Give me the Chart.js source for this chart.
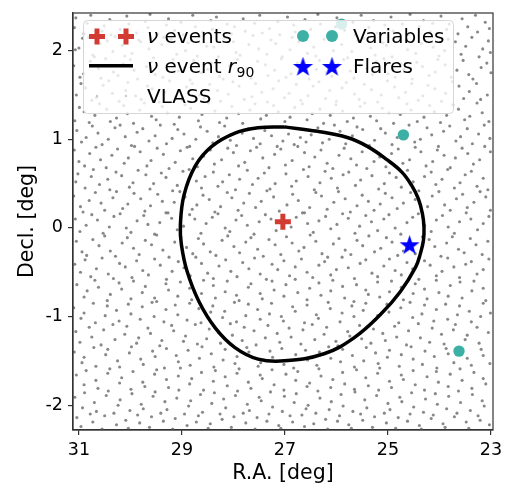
<!DOCTYPE html>
<html>
<head>
<meta charset="utf-8">
<script src="https://cdn.jsdelivr.net/npm/chart.js@4"></script>
<style>
html, body { margin: 0; padding: 0; background: #fff; }
#wrap { width: 506px; height: 488px; }
</style>
</head>
<body>
<div id="wrap"><canvas id="skyChart" width="506" height="488"></canvas></div>
<script>
// axis ticks
const raTicks = [23, 25, 27, 29, 31];
const decTicks = [-2, -1, 0, 1, 2];

// neutrino event best-fit position
const nuEventRA = [27.04];
const nuEventDec = [0.07];

// variable sources and flares
const variableRA = [25.90, 24.70, 23.62];
const variableDec = [2.30, 1.05, -1.39];
const flareRA = [24.58];
const flareDec = [-0.19];

// 90% containment contour
const contourRA = [27.01, 26.37, 25.79, 25.40, 25.02, 24.73, 24.54, 24.41, 24.33, 24.30, 24.31, 24.37, 24.46,
  24.76, 25.15, 25.66, 26.24, 27.01, 27.52, 27.97, 28.35, 28.67, 28.90, 29.01, 29.03, 28.96, 28.74, 28.42,
  27.97, 27.52, 27.01];
const contourDec = [1.14, 1.09, 1.02, 0.92, 0.77, 0.63, 0.48, 0.33, 0.16, 0.01, -0.14, -0.29, -0.44,
  -0.72, -0.98, -1.24, -1.42, -1.50, -1.48, -1.35, -1.13, -0.83, -0.49, -0.19, 0.03, 0.37, 0.70, 0.92,
  1.07, 1.13, 1.14];

// VLASS sources [RA, Dec]
const vlass = [
[31.09,2.26],[31.06,2.37],[30.9,2.19],[30.84,2.31],[30.77,2.4],[30.55,2.22],[30.51,2.28],[30.4,2.35],[30.38,2.18],[30.2,2.24],[30.07,2.39],[30.03,2.3],[29.88,2.2],[29.71,2.33],[29.66,2.26],[29.62,2.41],[29.47,2.19],[29.3,2.29],[29.26,2.36],[29.14,2.23],[29.02,2.32],[28.97,2.18],[28.79,2.4],[28.74,2.27],[28.6,2.21],[28.44,2.34],[28.41,2.24],[28.33,2.38],[28.12,2.3],[28.04,2.19],[27.98,2.27],[27.81,2.36],[27.77,2.22],[27.59,2.31],[27.49,2.4],[27.44,2.2],[27.3,2.25],[27.14,2.33],[27.1,2.18],[26.95,2.38],[26.83,2.29],[26.8,2.21],[26.61,2.35],[26.5,2.24],[26.36,2.41],[26.31,2.3],[26.15,2.19],[26.02,2.27],[25.99,2.37],[25.84,2.23],[25.68,2.32],[25.63,2.18],[25.52,2.4],[25.37,2.26],[25.28,2.34],[25.21,2.2],[25.06,2.29],[24.94,2.38],[24.9,2.22],[24.72,2.3],[24.6,2.18],[24.57,2.41],[24.39,2.27],[24.31,2.34],[24.18,2.21],[24.13,2.31],[23.97,2.39],[23.86,2.24],[23.81,2.3],[23.64,2.19],[23.56,2.36],[23.45,2.27],[23.3,2.4],[23.26,2.21],[23.11,2.32],[23.03,2.25],
[31.07,2.01],[31.0,2.03],[30.93,2.14],[30.81,2.15],[30.73,1.95],[30.7,1.93],[30.59,2.08],[30.45,2.11],[30.34,1.99],[30.3,2.16],[30.16,2.06],[30.11,1.94],[29.97,1.97],[29.84,2.12],[29.8,2.1],[29.64,2.02],[29.55,1.92],[29.39,2.07],[29.35,2.15],[29.21,2.13],[29.1,1.96],[28.93,2.0],[28.88,2.09],[28.7,1.94],[28.65,2.16],[28.52,2.05],[28.38,2.04],[28.29,1.93],[28.18,2.14],[28.0,2.1],[27.95,1.98],[27.87,1.95],[27.7,2.07],[27.62,2.17],[27.51,2.02],[27.35,1.96],[27.27,2.12],[27.18,2.08],[27.05,1.93],[26.9,2.01],[26.86,2.15],[26.73,2.1],[26.56,1.97],[26.44,2.04],[26.4,1.94],[26.24,2.13],[26.11,2.16],[26.06,2.0],[25.9,2.07],[25.78,1.92],[25.7,1.99],[25.58,2.11],[25.47,2.14],[25.33,2.03],[25.25,1.95],[25.1,2.09],[25.03,2.06],[24.92,1.93],[24.78,2.15],[24.65,2.12],[24.62,2.01],[24.46,1.97],[24.35,2.08],[24.28,2.16],[24.12,2.04],[24.01,1.94],[23.9,2.0],[23.83,2.13],[23.69,2.1],[23.58,1.96],[23.49,2.05],[23.37,2.15],[23.23,1.93],[23.16,2.02],[23.05,2.11],[23.01,1.98],
[31.1,1.83],[30.98,1.7],[30.91,1.74],[30.78,1.88],[30.62,1.8],[30.57,1.69],[30.48,1.91],[30.33,1.76],[30.24,1.72],[30.14,1.85],[30.0,1.9],[29.93,1.78],[29.86,1.68],[29.69,1.82],[29.6,1.87],[29.52,1.73],[29.37,1.7],[29.29,1.84],[29.17,1.9],[29.07,1.77],[28.95,1.81],[28.84,1.67],[28.77,1.89],[28.62,1.75],[28.5,1.79],[28.43,1.86],[28.27,1.71],[28.2,1.68],[28.08,1.83],[27.92,1.9],[27.86,1.76],[27.74,1.8],[27.66,1.69],[27.53,1.88],[27.38,1.84],[27.33,1.72],[27.2,1.78],[27.07,1.91],[26.98,1.7],[26.88,1.74],[26.76,1.86],[26.64,1.82],[26.53,1.68],[26.39,1.79],[26.33,1.89],[26.2,1.75],[26.09,1.71],[25.97,1.85],[25.86,1.9],[25.73,1.77],[25.66,1.69],[25.55,1.83],[25.41,1.8],[25.3,1.73],[25.23,1.88],[25.08,1.91],[25.0,1.74],[24.86,1.7],[24.75,1.85],[24.69,1.79],[24.53,1.68],[24.44,1.87],[24.33,1.82],[24.2,1.72],[24.08,1.76],[24.03,1.9],[23.89,1.84],[23.77,1.7],[23.66,1.78],[23.54,1.89],[23.43,1.73],[23.35,1.68],[23.19,1.81],[23.08,1.86],[23.0,1.75],
[31.05,1.5],[30.96,1.63],[30.87,1.58],[30.75,1.44],[30.66,1.47],[30.53,1.61],[30.42,1.66],[30.35,1.52],[30.22,1.43],[30.09,1.55],[30.05,1.64],[29.9,1.49],[29.79,1.45],[29.67,1.6],[29.58,1.57],[29.44,1.42],[29.33,1.53],[29.24,1.66],[29.12,1.48],[28.99,1.44],[28.91,1.59],[28.8,1.63],[28.66,1.5],[28.57,1.46],[28.46,1.62],[28.31,1.55],[28.25,1.43],[28.1,1.51],[28.01,1.65],[27.89,1.6],[27.79,1.45],[27.64,1.48],[27.57,1.63],[27.45,1.53],[27.34,1.42],[27.23,1.57],[27.12,1.66],[27.01,1.47],[26.92,1.52],[26.78,1.62],[26.69,1.44],[26.55,1.49],[26.45,1.6],[26.34,1.65],[26.21,1.46],[26.13,1.55],[26.0,1.43],[25.89,1.58],[25.81,1.64],[25.65,1.51],[25.56,1.45],[25.46,1.62],[25.32,1.56],[25.2,1.42],[25.13,1.5],[25.01,1.66],[24.87,1.59],[24.79,1.47],[24.66,1.53],[24.54,1.63],[24.41,1.44],[24.32,1.49],[24.22,1.61],[24.09,1.57],[23.96,1.43],[23.88,1.52],[23.75,1.65],[23.62,1.6],[23.53,1.46],[23.42,1.54],[23.28,1.63],[23.2,1.45],[23.07,1.5],
[31.08,1.21],[30.99,1.36],[30.9,1.31],[30.8,1.19],[30.69,1.27],[30.6,1.4],[30.46,1.34],[30.39,1.2],[30.27,1.24],[30.13,1.38],[30.06,1.29],[29.94,1.18],[29.82,1.33],[29.73,1.41],[29.59,1.26],[29.5,1.22],[29.38,1.37],[29.28,1.3],[29.15,1.17],[29.05,1.25],[28.94,1.39],[28.83,1.35],[28.68,1.21],[28.61,1.28],[28.48,1.41],[28.36,1.32],[28.27,1.19],[28.13,1.24],[28.03,1.37],[27.9,1.29],[27.82,1.18],[27.68,1.33],[27.58,1.4],[27.47,1.23],[27.36,1.27],[27.22,1.38],[27.13,1.31],[27.0,1.2],[26.9,1.25],[26.81,1.36],[26.66,1.4],[26.57,1.22],[26.47,1.29],[26.32,1.34],[26.25,1.18],[26.12,1.27],[26.01,1.39],[25.88,1.32],[25.79,1.2],[25.67,1.24],[25.54,1.37],[25.45,1.41],[25.34,1.26],[25.22,1.21],[25.11,1.35],[24.98,1.3],[24.89,1.18],[24.76,1.28],[24.63,1.4],[24.55,1.33],[24.43,1.2],[24.3,1.25],[24.19,1.38],[24.1,1.31],[23.98,1.19],[23.86,1.27],[23.74,1.39],[23.63,1.34],[23.51,1.22],[23.41,1.26],[23.27,1.41],[23.17,1.3],[23.04,1.2],
[31.04,1.1],[30.95,0.97],[30.86,1.02],[30.74,1.15],[30.63,1.07],[30.55,0.94],[30.43,1.0],[30.3,1.13],[30.2,1.16],[30.1,1.03],[29.98,0.93],[29.87,1.08],[29.76,1.12],[29.64,0.98],[29.52,1.04],[29.42,1.16],[29.3,0.95],[29.19,1.01],[29.08,1.11],[28.96,1.06],[28.85,0.92],[28.73,1.0],[28.64,1.14],[28.51,1.09],[28.4,0.96],[28.29,1.03],[28.17,1.15],[28.06,0.99],[27.94,0.93],[27.83,1.07],[27.71,1.12],[27.61,1.01],[27.48,0.95],[27.39,1.1],[27.26,1.04],[27.15,0.92],[27.04,0.98],[26.93,1.06],[26.82,0.94],[26.7,1.02],[26.59,0.97],[26.49,1.05],[26.36,1.13],[26.27,0.96],[26.14,1.0],[26.04,1.16],[25.93,1.09],[25.82,0.95],[25.69,1.04],[25.6,1.14],[25.49,1.11],[25.36,0.93],[25.26,0.99],[25.14,1.12],[25.05,1.07],[24.92,0.94],[24.82,1.02],[24.59,1.16],[24.48,0.97],[24.37,1.0],[24.24,1.13],[24.15,1.05],[24.02,0.92],[23.92,1.09],[23.8,1.15],[23.68,0.98],[23.59,1.03],[23.46,1.12],[23.36,0.95],[23.24,1.06],[23.13,1.16],[23.02,1.01],
[31.09,0.88],[31.0,0.75],[30.89,0.7],[30.79,0.84],[30.67,0.91],[30.58,0.77],[30.47,0.68],[30.36,0.82],[30.25,0.89],[30.12,0.73],[30.04,0.79],[29.92,0.92],[29.81,0.86],[29.68,0.7],[29.6,0.76],[29.48,0.9],[29.36,0.83],[29.25,0.67],[29.13,0.74],[29.03,0.87],[28.9,0.91],[28.79,0.78],[28.7,0.69],[28.58,0.81],[28.45,0.88],[28.37,0.72],[28.23,0.77],[28.11,0.9],[28.0,0.85],[27.9,0.7],[27.78,0.74],[27.67,0.87],[27.55,0.91],[27.43,0.79],[27.31,0.68],[27.2,0.83],[27.08,0.89],[26.99,0.71],[26.86,0.76],[26.75,0.92],[26.62,0.85],[26.53,0.69],[26.42,0.8],[26.3,0.88],[26.18,0.73],[26.07,0.67],[25.95,0.82],[25.85,0.9],[25.72,0.78],[25.61,0.71],[25.5,0.86],[25.39,0.92],[25.27,0.75],[25.16,0.8],[25.04,0.69],[24.93,0.84],[24.8,0.89],[24.71,0.73],[24.58,0.77],[24.47,0.91],[24.36,0.86],[24.26,0.7],[24.13,0.75],[24.04,0.88],[23.91,0.82],[23.79,0.68],[23.69,0.79],[23.56,0.9],[23.45,0.84],[23.34,0.72],[23.22,0.77],[23.12,0.92],[23.01,0.86],
[31.06,0.52],[31.02,0.61],[30.88,0.45],[30.76,0.58],[30.72,0.66],[30.6,0.49],[30.44,0.55],[30.4,0.43],[30.28,0.63],[30.17,0.59],[30.02,0.46],[29.95,0.51],[29.85,0.65],[29.7,0.6],[29.62,0.44],[29.55,0.5],[29.4,0.62],[29.31,0.57],[29.18,0.42],[29.09,0.48],[28.98,0.64],[28.86,0.66],[28.72,0.53],[28.62,0.45],[28.55,0.58],[28.39,0.63],[28.3,0.47],[28.21,0.52],[28.08,0.6],[27.96,0.43],[27.88,0.55],[27.73,0.65],[27.63,0.49],[27.52,0.56],[27.4,0.62],[27.29,0.44],[27.19,0.5],[26.98,0.61],[26.87,0.47],[26.78,0.53],[26.64,0.66],[26.55,0.58],[26.43,0.43],[26.32,0.51],[26.22,0.64],[26.1,0.56],[25.98,0.45],[25.87,0.6],[25.76,0.63],[25.63,0.48],[25.53,0.54],[25.41,0.67],[25.31,0.59],[25.18,0.44],[25.07,0.5],[24.97,0.62],[24.84,0.57],[24.74,0.46],[24.62,0.65],[24.51,0.52],[24.4,0.42],[24.29,0.58],[24.16,0.63],[24.07,0.49],[23.95,0.55],[23.84,0.66],[23.71,0.45],[23.6,0.51],[23.5,0.6],[23.38,0.64],[23.27,0.47],[23.15,0.56],[23.06,0.43],
[31.1,0.36],[30.97,0.24],[30.92,0.18],[30.8,0.31],[30.68,0.4],[30.57,0.28],[30.5,0.2],[30.34,0.34],[30.27,0.41],[30.15,0.22],[30.05,0.27],[29.93,0.39],[29.8,0.33],[29.72,0.19],[29.61,0.25],[29.47,0.38],[29.38,0.3],[29.27,0.17],[29.15,0.29],[29.04,0.41],[28.94,0.35],[28.8,0.21],[28.71,0.26],[28.59,0.37],[28.47,0.32],[28.36,0.18],[28.25,0.24],[28.12,0.4],[28.03,0.34],[27.91,0.2],[27.8,0.28],[27.69,0.39],[27.57,0.23],[27.46,0.3],[27.35,0.42],[27.22,0.35],[27.11,0.19],[26.96,0.26],[26.85,0.38],[26.74,0.31],[26.62,0.17],[26.52,0.23],[26.4,0.4],[26.29,0.36],[26.18,0.21],[26.05,0.29],[25.96,0.41],[25.83,0.33],[25.73,0.18],[25.6,0.25],[25.5,0.37],[25.38,0.3],[25.27,0.2],[25.15,0.27],[25.05,0.39],[24.92,0.34],[24.82,0.22],[24.7,0.28],[24.56,0.4],[24.47,0.32],[24.35,0.19],[24.23,0.24],[24.14,0.36],[24.01,0.41],[23.9,0.26],[23.79,0.2],[23.67,0.33],[23.55,0.38],[23.46,0.23],[23.33,0.29],[23.21,0.41],[23.1,0.35],[23.01,0.2],
[31.07,0.1],[30.98,-0.04],[30.86,0.03],[30.75,0.15],[30.64,0.09],[30.53,-0.06],[30.41,0.01],[30.32,0.13],[30.2,0.16],[30.08,0.0],[29.99,-0.05],[29.87,0.08],[29.74,0.14],[29.66,0.04],[29.53,-0.07],[29.43,0.06],[29.31,0.17],[29.2,0.11],[29.09,-0.02],[28.97,0.02],[28.85,0.15],[28.75,0.1],[28.63,-0.06],[28.53,0.05],[28.41,0.12],[28.3,0.16],[28.16,0.0],[28.07,-0.04],[27.95,0.09],[27.84,0.14],[27.73,0.03],[27.6,-0.07],[27.5,0.07],[27.38,0.15],[27.27,0.1],[27.17,-0.03],[26.88,0.01],[26.78,0.12],[26.66,0.17],[26.56,0.05],[26.45,-0.05],[26.34,0.08],[26.21,0.13],[26.11,-0.01],[25.99,0.04],[25.88,0.16],[25.77,0.11],[25.64,-0.06],[25.55,0.02],[25.43,0.14],[25.32,0.07],[25.2,-0.03],[25.08,0.1],[24.98,0.15],[24.86,0.0],[24.75,-0.07],[24.63,0.06],[24.52,0.12],[24.41,0.16],[24.29,0.03],[24.16,-0.04],[24.06,0.09],[23.94,0.14],[23.83,0.01],[23.71,-0.06],[23.61,0.07],[23.48,0.17],[23.39,0.1],[23.26,-0.02],[23.15,0.05],[23.04,0.13],
[31.05,-0.15],[30.94,-0.27],[30.85,-0.31],[30.73,-0.13],[30.61,-0.2],[30.5,-0.09],[30.39,-0.26],[30.29,-0.32],[30.16,-0.17],[30.06,-0.11],[29.94,-0.23],[29.83,-0.3],[29.71,-0.14],[29.59,-0.19],[29.49,-0.08],[29.37,-0.25],[29.25,-0.33],[29.14,-0.16],[29.02,-0.1],[28.91,-0.22],[28.79,-0.29],[28.68,-0.12],[28.58,-0.18],[28.45,-0.27],[28.34,-0.31],[28.22,-0.14],[28.11,-0.09],[27.99,-0.21],[27.88,-0.28],[27.76,-0.16],[27.66,-0.11],[27.53,-0.24],[27.42,-0.32],[27.31,-0.13],[27.19,-0.19],[27.08,-0.3],[26.97,-0.1],[26.86,-0.17],[26.73,-0.26],[26.63,-0.22],[26.51,-0.08],[26.4,-0.15],[26.28,-0.29],[26.17,-0.33],[26.06,-0.18],[25.95,-0.12],[25.83,-0.25],[25.72,-0.3],[25.6,-0.14],[25.49,-0.2],[25.37,-0.09],[25.26,-0.27],[25.14,-0.23],[25.03,-0.11],[24.92,-0.16],[24.81,-0.31],[24.7,-0.26],[24.47,-0.29],[24.33,-0.1],[24.2,-0.13],[24.09,-0.21],[23.97,-0.32],[23.86,-0.17],[23.75,-0.1],[23.63,-0.24],[23.52,-0.28],[23.4,-0.12],[23.29,-0.19],[23.17,-0.3],[23.06,-0.15],
[31.08,-0.41],[30.97,-0.5],[30.88,-0.36],[30.77,-0.55],[30.66,-0.46],[30.55,-0.34],[30.43,-0.52],[30.33,-0.57],[30.21,-0.4],[30.1,-0.44],[29.97,-0.56],[29.88,-0.37],[29.76,-0.48],[29.65,-0.53],[29.53,-0.35],[29.42,-0.42],[29.3,-0.58],[29.19,-0.49],[29.07,-0.38],[28.96,-0.45],[28.84,-0.54],[28.73,-0.33],[28.62,-0.4],[28.5,-0.51],[28.39,-0.57],[28.28,-0.43],[28.15,-0.36],[28.05,-0.49],[27.93,-0.55],[27.82,-0.39],[27.7,-0.46],[27.59,-0.34],[27.48,-0.52],[27.36,-0.58],[27.25,-0.41],[27.14,-0.47],[27.02,-0.37],[26.91,-0.54],[26.8,-0.44],[26.68,-0.35],[26.57,-0.5],[26.46,-0.56],[26.34,-0.42],[26.23,-0.38],[26.11,-0.53],[26.0,-0.47],[25.89,-0.33],[25.77,-0.45],[25.65,-0.57],[25.54,-0.4],[25.43,-0.36],[25.31,-0.51],[25.2,-0.55],[25.08,-0.43],[24.97,-0.35],[24.86,-0.48],[24.74,-0.53],[24.63,-0.39],[24.52,-0.46],[24.4,-0.58],[24.29,-0.37],[24.18,-0.42],[24.06,-0.54],[23.95,-0.49],[23.84,-0.34],[23.72,-0.44],[23.61,-0.56],[23.49,-0.41],[23.38,-0.38],[23.27,-0.52],[23.15,-0.47],[23.04,-0.35],
[31.04,-0.64],[30.9,-0.78],[30.84,-0.71],[30.69,-0.59],[30.62,-0.67],[30.45,-0.82],[30.39,-0.75],[30.22,-0.62],[30.17,-0.69],[29.99,-0.8],[29.94,-0.6],[29.77,-0.73],[29.71,-0.66],[29.53,-0.79],[29.49,-0.83],[29.31,-0.63],[29.26,-0.7],[29.08,-0.77],[29.03,-0.61],[28.85,-0.68],[28.81,-0.81],[28.62,-0.74],[28.58,-0.59],[28.39,-0.65],[28.35,-0.79],[28.16,-0.72],[28.12,-0.6],[27.94,-0.76],[27.89,-0.82],[27.71,-0.67],[27.66,-0.63],[27.48,-0.74],[27.44,-0.8],[27.25,-0.6],[27.21,-0.7],[27.02,-0.77],[26.98,-0.64],[26.8,-0.58],[26.75,-0.73],[26.57,-0.81],[26.52,-0.68],[26.34,-0.62],[26.3,-0.76],[26.11,-0.71],[26.07,-0.59],[25.88,-0.66],[25.84,-0.79],[25.66,-0.83],[25.61,-0.64],[25.43,-0.7],[25.38,-0.75],[25.2,-0.61],[25.16,-0.78],[24.97,-0.72],[24.93,-0.6],[24.74,-0.67],[24.7,-0.81],[24.51,-0.74],[24.47,-0.63],[24.29,-0.69],[24.24,-0.8],[24.06,-0.59],[24.01,-0.73],[23.83,-0.77],[23.79,-0.65],[23.6,-0.61],[23.56,-0.79],[23.37,-0.71],[23.33,-0.6],[23.15,-0.68],[23.1,-0.82],
[31.1,-0.9],[30.96,-1.02],[30.9,-0.96],[30.72,-0.85],[30.68,-1.07],[30.49,-0.99],[30.45,-0.88],[30.27,-0.93],[30.22,-1.05],[30.04,-0.86],[29.99,-0.97],[29.81,-1.03],[29.77,-0.89],[29.58,-0.84],[29.54,-1.0],[29.35,-1.06],[29.31,-0.92],[29.13,-0.87],[29.08,-0.98],[28.9,-1.04],[28.85,-0.85],[28.67,-0.91],[28.63,-1.07],[28.44,-0.95],[28.4,-0.88],[28.21,-1.01],[28.17,-0.94],[27.98,-0.84],[27.94,-1.06],[27.76,-0.99],[27.71,-0.86],[27.53,-0.92],[27.48,-1.03],[27.3,-0.97],[27.26,-0.85],[27.07,-1.0],[27.03,-1.05],[26.85,-0.89],[26.8,-0.94],[26.62,-1.07],[26.57,-0.87],[26.39,-0.98],[26.35,-1.02],[26.16,-0.84],[26.12,-0.91],[25.93,-1.06],[25.89,-0.96],[25.7,-0.88],[25.66,-1.0],[25.48,-0.93],[25.43,-0.85],[25.25,-1.04],[25.2,-0.99],[25.02,-0.86],[24.98,-0.95],[24.79,-1.07],[24.75,-0.9],[24.57,-0.84],[24.52,-1.01],[24.34,-0.97],[24.29,-0.87],[24.11,-1.05],[24.06,-0.92],[23.88,-0.86],[23.84,-1.03],[23.65,-0.98],[23.61,-0.88],[23.42,-0.94],[23.38,-1.06],[23.2,-1.0],[23.15,-0.85],[23.01,-0.96],
[31.06,-1.17],[30.98,-1.29],[30.8,-1.12],[30.75,-1.23],[30.57,-1.32],[30.52,-1.15],[30.34,-1.09],[30.3,-1.26],[30.11,-1.2],[30.07,-1.11],[29.88,-1.3],[29.84,-1.24],[29.66,-1.13],[29.61,-1.19],[29.43,-1.33],[29.39,-1.27],[29.2,-1.1],[29.16,-1.16],[28.97,-1.28],[28.93,-1.22],[28.74,-1.09],[28.7,-1.31],[28.52,-1.25],[28.47,-1.14],[28.29,-1.18],[28.25,-1.3],[28.06,-1.08],[28.02,-1.21],[27.83,-1.27],[27.79,-1.12],[27.6,-1.16],[27.56,-1.32],[27.38,-1.24],[27.33,-1.1],[27.15,-1.19],[27.1,-1.29],[26.92,-1.13],[26.88,-1.23],[26.69,-1.31],[26.65,-1.15],[26.47,-1.09],[26.42,-1.26],[26.24,-1.2],[26.19,-1.12],[26.01,-1.28],[25.97,-1.33],[25.78,-1.17],[25.74,-1.22],[25.55,-1.1],[25.51,-1.25],[25.33,-1.3],[25.28,-1.14],[25.1,-1.19],[25.05,-1.27],[24.87,-1.11],[24.83,-1.23],[24.64,-1.32],[24.6,-1.16],[24.41,-1.08],[24.37,-1.24],[24.19,-1.29],[24.14,-1.13],[23.96,-1.2],[23.91,-1.31],[23.73,-1.15],[23.69,-1.09],[23.5,-1.26],[23.46,-1.21],[23.27,-1.12],[23.23,-1.3],[23.05,-1.18],
[31.09,-1.4],[30.94,-1.52],[30.9,-1.46],[30.71,-1.35],[30.67,-1.56],[30.48,-1.43],[30.44,-1.37],[30.25,-1.5],[30.21,-1.57],[30.02,-1.41],[29.98,-1.34],[29.8,-1.48],[29.75,-1.54],[29.57,-1.39],[29.52,-1.45],[29.34,-1.58],[29.3,-1.36],[29.11,-1.44],[29.07,-1.51],[28.88,-1.38],[28.84,-1.55],[28.66,-1.47],[28.61,-1.34],[28.43,-1.42],[28.38,-1.57],[28.2,-1.49],[28.16,-1.37],[27.97,-1.53],[27.93,-1.45],[27.74,-1.35],[27.7,-1.4],[27.52,-1.56],[27.47,-1.52],[27.29,-1.39],[27.24,-1.46],[27.06,-1.36],[27.02,-1.54],[26.83,-1.58],[26.79,-1.43],[26.6,-1.38],[26.56,-1.49],[26.38,-1.55],[26.33,-1.4],[26.15,-1.34],[26.11,-1.47],[25.92,-1.51],[25.88,-1.37],[25.69,-1.44],[25.65,-1.57],[25.47,-1.5],[25.42,-1.35],[25.24,-1.41],[25.19,-1.53],[25.01,-1.46],[24.97,-1.38],[24.78,-1.56],[24.74,-1.43],[24.55,-1.34],[24.51,-1.48],[24.33,-1.54],[24.28,-1.39],[24.1,-1.45],[24.05,-1.58],[23.87,-1.36],[23.83,-1.42],[23.72,-1.52],[23.46,-1.47],[23.38,-1.55],[23.19,-1.37],[23.15,-1.44],[23.02,-1.53],
[31.05,-1.66],[30.9,-1.77],[30.86,-1.61],[30.67,-1.72],[30.63,-1.81],[30.44,-1.64],[30.4,-1.59],[30.21,-1.75],[30.17,-1.69],[29.99,-1.82],[29.95,-1.62],[29.76,-1.74],[29.72,-1.79],[29.53,-1.65],[29.49,-1.6],[29.3,-1.71],[29.26,-1.8],[29.07,-1.67],[29.03,-1.58],[28.85,-1.76],[28.81,-1.7],[28.62,-1.63],[28.58,-1.83],[28.39,-1.73],[28.35,-1.61],[28.16,-1.68],[28.12,-1.78],[27.93,-1.64],[27.89,-1.59],[27.71,-1.74],[27.66,-1.81],[27.48,-1.66],[27.44,-1.7],[27.25,-1.6],[27.21,-1.77],[27.02,-1.83],[26.98,-1.65],[26.79,-1.72],[26.75,-1.62],[26.57,-1.79],[26.52,-1.75],[26.34,-1.59],[26.3,-1.67],[26.11,-1.8],[26.07,-1.71],[25.88,-1.63],[25.84,-1.76],[25.65,-1.82],[25.61,-1.6],[25.43,-1.69],[25.38,-1.78],[25.2,-1.64],[25.16,-1.58],[24.97,-1.73],[24.93,-1.8],[24.74,-1.66],[24.7,-1.71],[24.51,-1.61],[24.47,-1.77],[24.29,-1.83],[24.24,-1.68],[24.06,-1.62],[24.02,-1.74],[23.83,-1.79],[23.79,-1.65],[23.6,-1.59],[23.56,-1.72],[23.37,-1.81],[23.33,-1.63],[23.15,-1.7],[23.1,-1.76],
[31.08,-1.91],[30.93,-2.03],[30.89,-1.86],[30.7,-1.97],[30.66,-2.07],[30.47,-1.89],[30.43,-1.84],[30.24,-2.0],[30.2,-1.94],[30.01,-2.06],[29.97,-1.87],[29.79,-1.99],[29.75,-2.04],[29.56,-1.9],[29.52,-1.85],[29.33,-1.96],[29.29,-2.05],[29.1,-1.92],[29.06,-1.83],[28.87,-2.01],[28.83,-1.95],[28.64,-1.88],[28.6,-2.08],[28.42,-1.98],[28.37,-1.86],[28.19,-1.93],[28.15,-2.03],[27.96,-1.89],[27.92,-1.84],[27.73,-1.99],[27.69,-2.06],[27.5,-1.91],[27.46,-1.95],[27.28,-1.85],[27.24,-2.02],[27.05,-2.07],[27.01,-1.9],[26.82,-1.97],[26.78,-1.87],[26.59,-2.04],[26.55,-2.0],[26.36,-1.84],[26.32,-1.92],[26.14,-2.05],[26.1,-1.96],[25.91,-1.88],[25.87,-2.01],[25.68,-2.07],[25.64,-1.85],[25.45,-1.94],[25.41,-2.03],[25.22,-1.89],[25.18,-1.83],[25.0,-1.98],[24.96,-2.05],[24.77,-1.91],[24.73,-1.96],[24.54,-1.86],[24.5,-2.02],[24.31,-2.08],[24.27,-1.93],[24.08,-1.87],[24.04,-1.99],[23.86,-2.04],[23.82,-1.9],[23.63,-1.84],[23.59,-1.97],[23.4,-2.06],[23.36,-1.88],[23.17,-1.95],[23.13,-2.01],
[31.04,-2.14],[30.96,-2.24],[30.78,-2.1],[30.73,-2.19],[30.55,-2.27],[30.5,-2.12],[30.32,-2.09],[30.27,-2.22],[30.09,-2.17],[30.04,-2.26],[29.86,-2.11],[29.82,-2.2],[29.63,-2.25],[29.59,-2.13],[29.41,-2.09],[29.36,-2.18],[29.18,-2.27],[29.13,-2.15],[28.95,-2.1],[28.9,-2.23],[28.72,-2.19],[28.68,-2.12],[28.49,-2.26],[28.45,-2.21],[28.26,-2.1],[28.22,-2.16],[28.04,-2.25],[27.99,-2.13],[27.81,-2.09],[27.76,-2.2],[27.58,-2.27],[27.54,-2.14],[27.35,-2.18],[27.31,-2.1],[27.12,-2.23],[27.08,-2.26],[26.9,-2.12],[26.85,-2.19],[26.67,-2.11],[26.62,-2.24],[26.44,-2.21],[26.4,-2.09],[26.21,-2.16],[26.17,-2.27],[25.98,-2.18],[25.94,-2.12],[25.76,-2.22],[25.71,-2.26],[25.53,-2.1],[25.49,-2.17],[25.3,-2.25],[25.26,-2.13],[25.07,-2.09],[25.03,-2.2],[24.85,-2.26],[24.8,-2.14],[24.62,-2.18],[24.57,-2.1],[24.39,-2.23],[24.35,-2.27],[24.16,-2.15],[24.12,-2.11],[23.93,-2.21],[23.89,-2.25],[23.71,-2.13],[23.66,-2.09],[23.48,-2.19],[23.43,-2.26],[23.25,-2.12],[23.21,-2.17],[23.03,-2.22]
];

const FONT = '"DejaVu Sans", "Liberation Sans", sans-serif';
const RED = '#d13b32';
const TEAL = '#3db0a5';
const BLUE = '#0000ff';
const DOT = 'rgba(115, 115, 115, 0.85)';

function toPoints(xs, ys) {
    return xs.map((x, i) => ({ x: x, y: ys[i] }));
}

// filled five-point star, used as a point style
function makeStar(r, color) {
    const size = Math.ceil(r * 2) + 2;
    const c = document.createElement('canvas');
    c.width = size;
    c.height = size;
    const g = c.getContext('2d');
    const cx = size / 2, cy = size / 2 + r * 0.08;
    g.beginPath();
    for (let i = 0; i < 10; i++) {
        const rad = i % 2 ? r * 0.4 : r;
        const a = -Math.PI / 2 + i * Math.PI / 5;
        g.lineTo(cx + rad * Math.cos(a), cy + rad * Math.sin(a));
    }
    g.closePath();
    g.fillStyle = color;
    g.fill();
    return c;
}
const starImg = makeStar(10.5, BLUE);

function drawPlus(ctx, x, y) {
    ctx.save();
    ctx.strokeStyle = RED;
    ctx.lineWidth = 5;
    ctx.beginPath();
    ctx.moveTo(x - 8, y); ctx.lineTo(x + 8, y);
    ctx.moveTo(x, y - 8); ctx.lineTo(x, y + 8);
    ctx.stroke();
    ctx.restore();
}

function drawDot(ctx, x, y, r, color) {
    ctx.beginPath();
    ctx.arc(x, y, r, 0, Math.PI * 2);
    ctx.fillStyle = color;
    ctx.fill();
}

// matplotlib-style frame and two-column legend inside the axes
const skyExtras = {
    id: 'skyExtras',
    afterDatasetsDraw(chart) {
        const ctx = chart.ctx;
        const a = chart.chartArea;
        ctx.save();

        ctx.beginPath();
        ctx.roundRect(83.5, 20.5, 370, 93, 4);
        ctx.fillStyle = 'rgba(255,255,255,0.8)';
        ctx.fill();
        ctx.strokeStyle = '#d6d6d6';
        ctx.lineWidth = 1;
        ctx.stroke();

        // markers
        drawPlus(ctx, 97, 36.5);
        drawPlus(ctx, 126, 36.5);
        ctx.strokeStyle = '#000';
        ctx.lineWidth = 3.5;
        ctx.beginPath();
        ctx.moveTo(89, 65.7);
        ctx.lineTo(133, 65.7);
        ctx.stroke();
        drawDot(ctx, 97, 96, 1.2, 'rgba(150,150,150,0.5)');
        drawDot(ctx, 126, 96, 1.2, 'rgba(150,150,150,0.5)');
        drawDot(ctx, 303, 36, 6, TEAL);
        drawDot(ctx, 332, 36, 6, TEAL);
        ctx.drawImage(starImg, 303 - starImg.width / 2, 66.5 - starImg.height / 2);
        ctx.drawImage(starImg, 332 - starImg.width / 2, 66.5 - starImg.height / 2);

        // labels
        ctx.fillStyle = '#000';
        ctx.textBaseline = 'alphabetic';
        ctx.textAlign = 'left';
        ctx.font = 'italic 20px ' + FONT;
        ctx.fillText('ν', 147, 43);
        let w = ctx.measureText('ν').width;
        ctx.font = '20px ' + FONT;
        ctx.fillText(' events', 147 + w, 43);

        ctx.font = 'italic 20px ' + FONT;
        ctx.fillText('ν', 147, 72.5);
        let x = 147 + ctx.measureText('ν').width;
        ctx.font = '20px ' + FONT;
        ctx.fillText(' event ', x, 72.5);
        x += ctx.measureText(' event ').width;
        ctx.font = 'italic 20px ' + FONT;
        ctx.fillText('r', x, 72.5);
        x += ctx.measureText('r').width + 0.5;
        ctx.font = '14px ' + FONT;
        ctx.fillText('90', x, 76.5);

        ctx.font = '20px ' + FONT;
        ctx.fillText('VLASS', 147, 102.5);
        ctx.fillText('Variables', 353, 43);
        ctx.fillText('Flares', 353, 72.5);

        // full frame
        ctx.strokeStyle = '#333';
        ctx.lineWidth = 1.2;
        ctx.strokeRect(a.left, a.top, a.right - a.left, a.bottom - a.top);
        ctx.restore();
    }
};

const axisCommon = {
    type: 'linear',
    grid: { drawOnChartArea: false, drawTicks: true, tickLength: 5, color: '#333', lineWidth: 1.2 },
    border: { display: true, color: '#333', width: 1.2 },
    ticks: { color: '#000', font: { family: FONT, size: 17.5 }, padding: 5, maxRotation: 0 }
};

new Chart(document.getElementById('skyChart'), {
    type: 'scatter',
    data: {
        datasets: [
            {
                label: 'Flares',
                data: toPoints(flareRA, flareDec),
                pointStyle: starImg,
                pointRadius: 10
            },
            {
                label: 'ν events',
                data: toPoints(nuEventRA, nuEventDec),
                pointStyle: 'cross',
                pointRadius: 8,
                pointBorderWidth: 5,
                pointBorderColor: RED,
                pointBackgroundColor: RED
            },
            {
                label: 'Variables',
                data: toPoints(variableRA, variableDec),
                pointRadius: 5.7,
                pointBorderWidth: 0,
                pointBackgroundColor: TEAL
            },
            {
                label: 'ν event r90',
                data: toPoints(contourRA, contourDec),
                showLine: true,
                borderColor: '#000',
                borderWidth: 3.5,
                tension: 0.4,
                pointRadius: 0
            },
            {
                label: 'VLASS',
                data: vlass.map(p => ({ x: p[0], y: p[1] })),
                pointRadius: 1.55,
                pointBorderWidth: 0,
                pointBackgroundColor: DOT
            }
        ]
    },
    options: {
        responsive: false,
        animation: false,
        devicePixelRatio: 1,
        layout: { padding: { top: 9, right: 9, left: 0, bottom: 0 } },
        plugins: {
            legend: { display: false },
            tooltip: { enabled: false }
        },
        scales: {
            x: Object.assign({}, axisCommon, {
                reverse: true,
                min: 22.96,
                max: 31.115,
                afterBuildTicks: s => { s.ticks = raTicks.map(v => ({ value: v })); },
                afterFit: s => { s.height = 58; s.paddingLeft = 0; s.paddingRight = 0; },
                title: { display: true, text: 'R.A. [deg]', color: '#000', font: { family: FONT, size: 20.5, lineHeight: 1.2 }, padding: { top: 0, bottom: 2 } }
            }),
            y: Object.assign({}, axisCommon, {
                min: -2.28,
                max: 2.425,
                afterBuildTicks: s => { s.ticks = decTicks.map(v => ({ value: v })); },
                afterFit: s => { s.width = 73; s.paddingTop = 0; s.paddingBottom = 0; },
                title: { display: true, text: 'Decl. [deg]', color: '#000', font: { family: FONT, size: 20.5, lineHeight: 1.2 }, padding: { top: 15, bottom: 0 } }
            })
        }
    },
    plugins: [skyExtras]
});
</script>
</body>
</html>
